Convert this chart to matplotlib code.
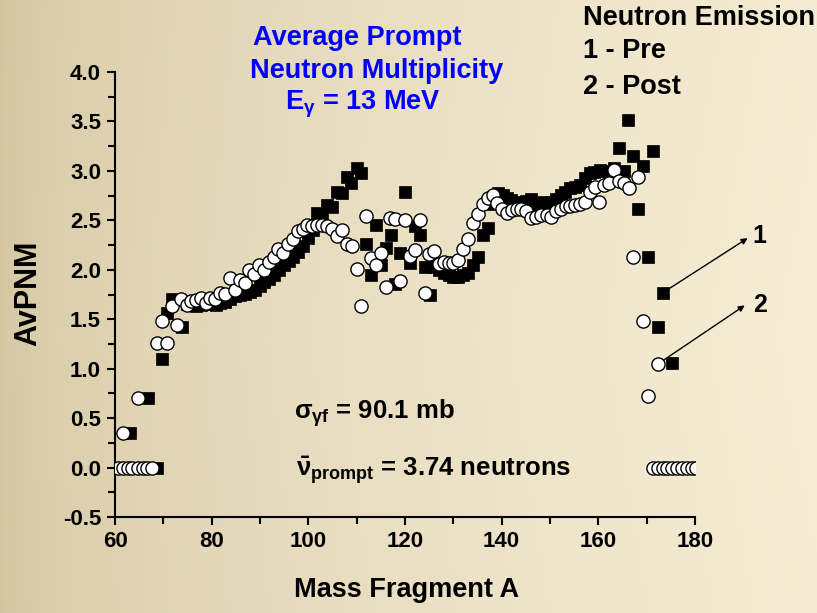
import numpy as np
import matplotlib
matplotlib.use("Agg")
import matplotlib.pyplot as plt
from matplotlib.ticker import MultipleLocator

plt.rcParams['font.family'] = ['Liberation Sans', 'DejaVu Sans']
plt.rcParams['font.weight'] = 'bold'
plt.rcParams['mathtext.fontset'] = 'custom'
plt.rcParams['mathtext.rm'] = 'Liberation Sans:bold'
plt.rcParams['mathtext.bf'] = 'Liberation Sans:bold'
plt.rcParams['mathtext.it'] = 'Liberation Sans:bold'
plt.rcParams['mathtext.default'] = 'rm'

# Pre-neutron-emission multiplicity (filled squares)
A_pre = [63.0, 66.8, 68.7, 69.7, 70.7, 71.7, 73.8,
         74.8, 75.8, 76.8, 77.8, 78.8, 79.8, 80.8, 81.8, 82.8, 83.8,
         84.8, 85.8, 86.9, 87.9, 88.9, 89.9, 90.9, 91.9, 92.9, 93.9,
         94.9, 95.9, 96.9, 97.9, 98.9, 99.9, 100.9, 101.8, 102.9, 103.9,
         104.9, 105.9, 106.9, 107.9, 108.9, 110.0, 110.9, 111.9, 112.9,
         114.0, 115.0, 116.0, 117.0, 117.9, 119.0, 120.0, 121.0, 122.0,
         123.1, 124.1, 125.1, 126.1, 127.1, 128.0, 129.1, 130.0, 131.0,
         132.1, 133.1, 134.1, 135.2, 136.2, 137.2, 138.2, 139.2, 140.2,
         141.1, 141.9, 143.0, 144.1, 145.1, 146.1, 147.2, 148.2, 149.2,
         150.3, 151.2, 152.2, 153.2, 154.1, 155.2, 156.2, 157.2, 158.2,
         159.2, 160.3, 161.2, 162.2, 163.3, 164.2, 165.3, 166.2, 167.2,
         168.2, 169.3, 170.3, 171.3, 172.4, 173.4, 175.3]
nu_pre = [0.35, 0.70, 0.00, 1.10, 1.56, 1.70, 1.42,
          1.65, 1.64, 1.63, 1.64, 1.65, 1.65, 1.64, 1.66, 1.67, 1.70,
          1.73, 1.75, 1.76, 1.78, 1.80, 1.84, 1.88, 1.91, 1.95, 2.00,
          2.05, 2.09, 2.13, 2.18, 2.24, 2.32, 2.40, 2.57, 2.55, 2.66,
          2.63, 2.79, 2.78, 2.94, 2.88, 3.03, 2.98, 2.26, 1.95,
          2.45, 2.05, 2.22, 2.35, 1.86, 2.17, 2.79, 2.07, 2.44,
          2.35, 2.03, 1.74, 2.03, 2.00, 1.97, 1.95, 1.93, 1.93,
          1.95, 1.97, 2.05, 2.13, 2.35, 2.42, 2.67, 2.78, 2.76,
          2.73, 2.71, 2.69, 2.67, 2.70, 2.72, 2.66, 2.69, 2.68,
          2.69, 2.72, 2.76, 2.79, 2.83, 2.84, 2.86, 2.93, 2.98,
          2.99, 3.01, 3.00, 2.99, 3.03, 3.23, 3.00, 3.51, 3.15,
          2.61, 3.05, 2.13, 3.20, 1.42, 1.77, 1.06]

# Post-neutron-emission multiplicity (open circles)
A_post = [60.7, 61.6, 62.6, 63.6, 64.7, 65.7, 66.7, 67.7,
          61.6, 64.7, 68.7, 69.7, 70.7, 71.7, 72.8, 73.7,
          74.8, 75.8, 76.8, 77.8, 78.8, 79.7, 80.7, 81.7, 82.8, 83.8,
          84.8, 85.9, 86.8, 87.8, 88.8, 89.7, 90.8, 91.8, 92.8, 93.8,
          94.8, 95.8, 96.9, 97.9, 98.8, 99.8, 100.7, 101.7, 102.8, 103.8,
          104.8, 105.9, 106.9, 107.9, 109.0, 110.0, 110.9, 111.9, 112.9,
          114.0, 115.0, 116.0, 116.9, 117.9, 119.0, 120.0, 121.0, 122.0,
          123.1, 124.1, 125.0, 126.1, 127.1, 128.0, 129.1, 130.0, 131.0,
          132.1, 133.1, 134.1, 135.2, 136.1, 137.1, 138.2, 139.1, 140.1,
          141.0, 142.2, 143.1, 144.1, 145.1, 146.1, 147.2, 148.2, 149.3,
          150.3, 151.2, 152.2, 153.3, 154.2, 155.1, 156.2, 157.2, 158.2,
          159.3, 160.2, 161.2, 162.2, 163.3, 164.2, 165.3, 166.3, 167.2,
          168.2, 169.3, 170.3, 172.4,
          171.3, 172.3, 173.3, 174.3, 175.3, 176.3, 177.3, 178.3, 179.3, 180.3]
nu_post = [0.0, 0.0, 0.0, 0.0, 0.0, 0.0, 0.0, 0.0,
           0.35, 0.70, 1.26, 1.48, 1.26, 1.63, 1.44, 1.70,
           1.64, 1.68, 1.69, 1.71, 1.66, 1.71, 1.70, 1.77, 1.76, 1.92,
           1.80, 1.90, 1.87, 2.00, 1.96, 2.05, 2.00, 2.08, 2.13, 2.21,
           2.17, 2.26, 2.31, 2.39, 2.41, 2.45, 2.44, 2.45, 2.45, 2.44,
           2.41, 2.34, 2.40, 2.26, 2.24, 2.01, 1.63, 2.54, 2.12,
           2.05, 2.17, 1.83, 2.52, 2.51, 1.89, 2.50, 2.14, 2.20,
           2.50, 1.77, 2.16, 2.19, 2.06, 2.08, 2.07, 2.07, 2.10,
           2.21, 2.31, 2.47, 2.56, 2.67, 2.73, 2.76, 2.68, 2.61,
           2.57, 2.60, 2.61, 2.61, 2.59, 2.52, 2.53, 2.55, 2.55,
           2.53, 2.59, 2.61, 2.64, 2.65, 2.66, 2.67, 2.69, 2.79,
           2.84, 2.69, 2.86, 2.88, 3.01, 2.90, 2.88, 2.83, 2.13,
           2.94, 1.48, 0.72, 1.05,
           0.0, 0.0, 0.0, 0.0, 0.0, 0.0, 0.0, 0.0, 0.0, 0.0]

x_ticks = [60, 80, 100, 120, 140, 160, 180]
y_ticks = [-0.5, 0.0, 0.5, 1.0, 1.5, 2.0, 2.5, 3.0, 3.5, 4.0]

W, H = 817, 613
fig = plt.figure(figsize=(W / 100, H / 100), dpi=100)


def fx(px):
    return px / W


def fy(py):
    return 1 - py / H


# warm slide background, darker at the left edge
bg = fig.add_axes([0, 0, 1, 1], zorder=-10)
bg.set_axis_off()
xs = np.linspace(0, 1, 400)
ys = np.linspace(0, 1, 300)
X, Y = np.meshgrid(xs, ys)
t = np.clip(X ** 0.55 * 0.95 + 0.05 * (1 - np.abs(Y - 0.55) * 1.4), 0, 1)
left = np.array([210, 196, 158]) / 255
right = np.array([246, 237, 214]) / 255
img = left[None, None, :] + (right - left)[None, None, :] * t[..., None]
bg.imshow(img, extent=[0, 1, 0, 1], aspect='auto', origin='upper')
bg.set_xlim(0, 1)
bg.set_ylim(0, 1)

ax = fig.add_axes([fx(115), fy(517), fx(695) - fx(115), fy(72) - fy(517)])
ax.set_facecolor('none')

ax.plot(A_pre, nu_pre, 's', ms=8, mfc='black', mec='black', mew=0.5, zorder=3)
ax.plot(A_post, nu_post, 'o', ms=9.5, mfc='white', mec='black', mew=1.0, zorder=4)

ax.set_xlim(60, 180)
ax.set_ylim(-0.5, 4.0)
ax.set_xticks(x_ticks)
ax.set_yticks(y_ticks)
ax.set_yticklabels([f"{v:.1f}" for v in y_ticks])
ax.xaxis.set_minor_locator(MultipleLocator(10))
ax.yaxis.set_minor_locator(MultipleLocator(0.25))
for s in ['top', 'right']:
    ax.spines[s].set_visible(False)
for s in ['left', 'bottom']:
    ax.spines[s].set_linewidth(1.5)
ax.tick_params(which='major', direction='out', length=6, width=1.5,
               labelsize=16, pad=4)
ax.tick_params(which='minor', direction='out', length=5, width=1.5)
for lab in ax.get_xticklabels() + ax.get_yticklabels():
    lab.set_fontweight('bold')

fig.text(fx(407), fy(590), 'Mass Fragment A', ha='center', va='center',
         fontsize=19.5, fontweight='bold')
fig.text(fx(28), fy(293), 'AvPNM', ha='center', va='center', rotation=90,
         fontsize=22, fontweight='bold')

blue = '#0000ff'
fig.text(fx(357), fy(38), 'Average Prompt', ha='center', va='center',
         fontsize=19.5, fontweight='bold', color=blue)
fig.text(fx(377), fy(71), 'Neutron Multiplicity', ha='center', va='center',
         fontsize=19.5, fontweight='bold', color=blue)
fig.text(fx(285), fy(104), r'E$_{γ}$ = 13 MeV', ha='left', va='center',
         fontsize=19.5, fontweight='bold', color=blue)

fig.text(fx(583), fy(18), 'Neutron Emission', ha='left', va='center',
         fontsize=19.5, fontweight='bold')
fig.text(fx(583), fy(51), '1 - Pre', ha='left', va='center',
         fontsize=19.5, fontweight='bold')
fig.text(fx(583), fy(87), '2 - Post', ha='left', va='center',
         fontsize=19.5, fontweight='bold')

ax.text(97.0, 0.55, r'σ$_{γf}$ = 90.1 mb', ha='left', va='center',
        fontsize=18.5, fontweight='bold')
ax.text(97.5, -0.03, r'$\bar{ν}_{prompt}$ = 3.74 neutrons', ha='left',
        va='center', fontsize=18.5, fontweight='bold')

# pointers from the last plotted points to the series numbers
arrow = dict(arrowstyle='-|>', lw=1.0, color='black', mutation_scale=9,
             shrinkA=0, shrinkB=0)
ax.annotate('', xy=(190.9, 2.32), xytext=(173.4, 1.77), arrowprops=arrow,
            annotation_clip=False)
ax.annotate('', xy=(190.3, 1.64), xytext=(172.4, 1.05), arrowprops=arrow,
            annotation_clip=False)
ax.text(193.4, 2.34, '1', ha='center', va='center', fontsize=18,
        fontweight='bold', clip_on=False)
ax.text(193.4, 1.64, '2', ha='center', va='center', fontsize=18,
        fontweight='bold', clip_on=False)

fig.savefig('out.png', dpi=100)
